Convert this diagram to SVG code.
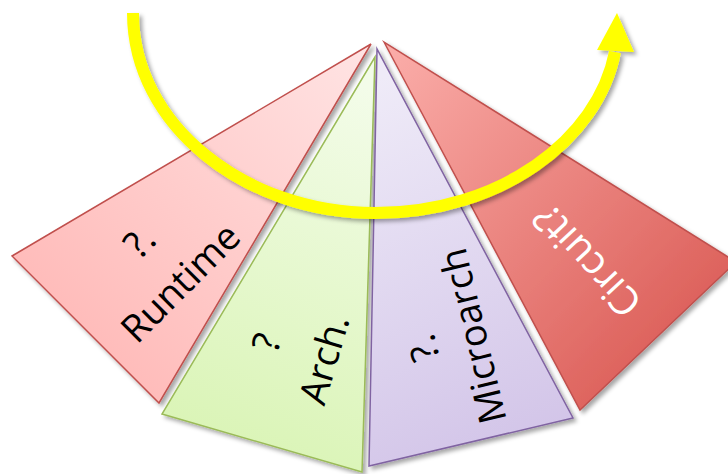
<svg xmlns="http://www.w3.org/2000/svg" width="728" height="474" viewBox="0 0 728 474">
<defs>
  <filter id="sh" x="-20%" y="-20%" width="140%" height="140%">
    <feDropShadow dx="3" dy="3" stdDeviation="2" flood-color="#000" flood-opacity="0.35"/>
  </filter>
  <linearGradient id="gRun" x1="1" y1="0" x2="0" y2="1">
    <stop offset="0" stop-color="#ffe4e4"/>
    <stop offset="1" stop-color="#ffb2b0"/>
  </linearGradient>
  <linearGradient id="gArch" x1="0.6" y1="0" x2="0.4" y2="1">
    <stop offset="0" stop-color="#f3fce9"/>
    <stop offset="1" stop-color="#d9f4b4"/>
  </linearGradient>
  <linearGradient id="gMicro" x1="0.4" y1="0" x2="0.6" y2="1">
    <stop offset="0" stop-color="#efebf8"/>
    <stop offset="1" stop-color="#d2c4e8"/>
  </linearGradient>
  <linearGradient id="gCirc" x1="0" y1="0" x2="1" y2="1">
    <stop offset="0" stop-color="#fbaeaa"/>
    <stop offset="1" stop-color="#d6504a"/>
  </linearGradient>
  <style>
    .shape { stroke-width: 1.5; stroke-linejoin: miter; filter: url(#sh); }
    .lbl { font-family: "Open Sans", "Liberation Sans", sans-serif; font-size: 38px; text-anchor: middle; fill: #000; }
    .lblw { font-family: "Open Sans", "Liberation Sans", sans-serif; font-size: 40px; text-anchor: middle; fill: #fff; }
  </style>
</defs>

<g id="runtime">
  <polygon class="shape" points="371,44 12,256 159,403" fill="url(#gRun)" stroke="#c0504d"/>
  <g transform="translate(190,292) rotate(-45)">
    <text class="lbl" x="0" y="-58">?.</text>
    <text class="lbl" x="0" y="0">Runtime</text>
  </g>
</g>

<g id="arch">
  <polygon class="shape" points="375,57 162,414 362,472" fill="url(#gArch)" stroke="#9bbb59"/>
  <g transform="translate(337,363) rotate(-73.7)">
    <text class="lbl" x="0" y="-60">?</text>
    <text class="lbl" x="0" y="0">Arch.</text>
  </g>
</g>

<g id="microarch">
  <polygon class="shape" points="377,49 369,466 573,418" fill="url(#gMicro)" stroke="#8064a2"/>
  <g transform="translate(486,333) rotate(-103.5)">
    <text class="lbl" x="0" y="-51">?.</text>
    <text class="lbl" x="0" y="0">Microarch</text>
  </g>
</g>

<g id="circuit">
  <polygon class="shape" points="384,42 580,410 736,262" fill="url(#gCirc)" stroke="#c0504d"/>
  <g transform="translate(587,261) rotate(-133)">
    <text class="lblw" x="0" y="14">Circuit?</text>
  </g>
</g>

<g id="connectors" filter="url(#sh)">
  <path d="M133,13 C133,125 245,213 375,213 C500,213 598,140 615,52" fill="none" stroke="#ffff00" stroke-width="12"/>
  <polygon points="617,13 597,50 634,52" fill="#ffff00"/>
</g>
</svg>
